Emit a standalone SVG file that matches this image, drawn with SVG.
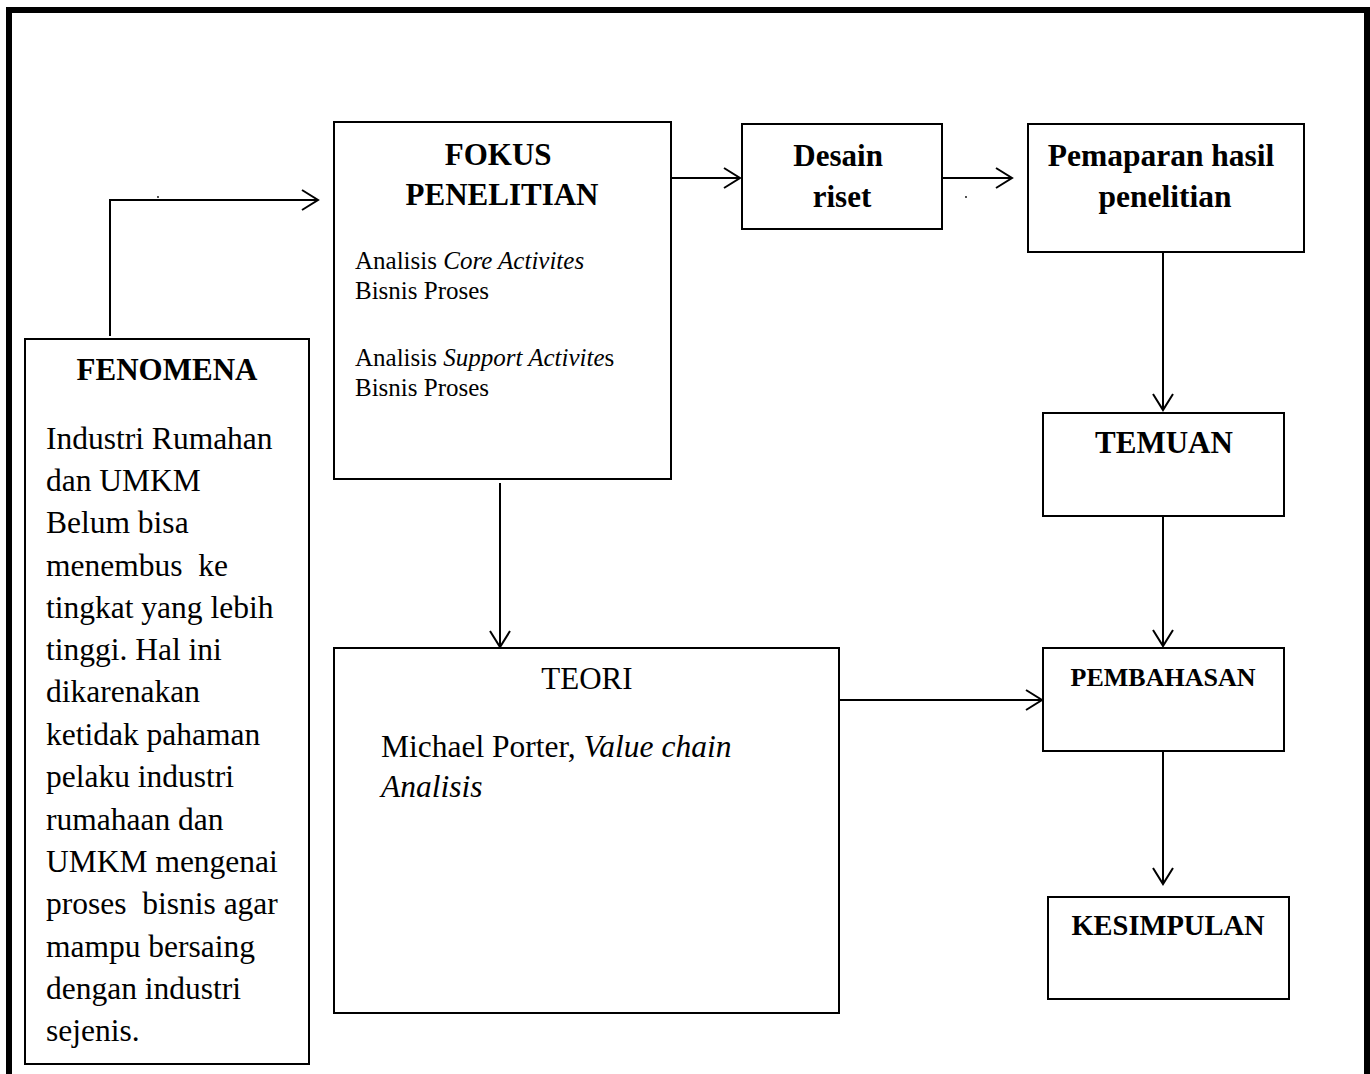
<svg xmlns="http://www.w3.org/2000/svg" width="1370" height="1074" viewBox="0 0 1370 1074">
  <style>
    .box { fill: #fff; stroke: #000; stroke-width: 2; }
    .link { fill: none; stroke: #000; stroke-width: 2; }
    .t { font-family: "Liberation Serif", "Times New Roman", serif; fill: #000; }
    .b { font-weight: bold; }
    .i { font-style: italic; }
    .pre { white-space: pre; }
  </style>
  <defs>
    <marker id="arrow" markerUnits="userSpaceOnUse" markerWidth="22" markerHeight="24" refX="17" refY="11" orient="auto">
      <path d="M1,1 L17,11 L1,21" fill="none" stroke="#000" stroke-width="2"/>
    </marker>
  </defs>

  <rect width="1370" height="1074" fill="#fff"/>
  <!-- outer frame -->
  <rect x="9" y="10" width="1358" height="1100" fill="none" stroke="#000" stroke-width="6"/>

  <g id="connectors">
    <path class="link" d="M110,336 V200 H318" marker-end="url(#arrow)"/>
    <path class="link" d="M668,178 H740" marker-end="url(#arrow)"/>
    <path class="link" d="M942,178 H1012" marker-end="url(#arrow)"/>
    <path class="link" d="M1163,252 V410" marker-end="url(#arrow)"/>
    <path class="link" d="M1163,516 V646" marker-end="url(#arrow)"/>
    <path class="link" d="M839,700 H1042" marker-end="url(#arrow)"/>
    <path class="link" d="M1163,751 V884" marker-end="url(#arrow)"/>
    <path class="link" d="M500,483 V647" marker-end="url(#arrow)"/>
    <!-- stray dots -->
    <circle cx="158" cy="197" r="0.9" fill="#000"/>
    <circle cx="657" cy="197" r="0.9" fill="#000"/>
    <circle cx="966" cy="197" r="0.9" fill="#000"/>
  </g>

  <g id="fenomena">
    <rect class="box" x="25" y="339" width="284" height="725"/>
    <text class="t b" x="167" y="380" font-size="31" text-anchor="middle">FENOMENA</text>
    <text class="t" font-size="31.5">
      <tspan x="46" y="449">Industri Rumahan</tspan>
      <tspan x="46" y="491">dan UMKM</tspan>
      <tspan x="46" y="533">Belum bisa</tspan>
      <tspan x="46" y="576" class="pre">menembus  ke</tspan>
      <tspan x="46" y="618">tingkat yang lebih</tspan>
      <tspan x="46" y="660">tinggi. Hal ini</tspan>
      <tspan x="46" y="702">dikarenakan</tspan>
      <tspan x="46" y="745">ketidak pahaman</tspan>
      <tspan x="46" y="787">pelaku industri</tspan>
      <tspan x="46" y="830">rumahaan dan</tspan>
      <tspan x="46" y="872">UMKM mengenai</tspan>
      <tspan x="46" y="914" class="pre">proses  bisnis agar</tspan>
      <tspan x="46" y="957">mampu bersaing</tspan>
      <tspan x="46" y="999">dengan industri</tspan>
      <tspan x="46" y="1041">sejenis.</tspan>
    </text>
  </g>

  <g id="fokus">
    <rect class="box" x="334" y="122" width="337" height="357"/>
    <text class="t b" font-size="31" text-anchor="middle">
      <tspan x="502" y="165">FOKUS</tspan>
      <tspan x="502" y="205">PENELITIAN</tspan>
    </text>
    <text class="t" font-size="25">
      <tspan x="355" y="269">Analisis <tspan class="i">Core Activites</tspan></tspan>
      <tspan x="355" y="299">Bisnis Proses</tspan>
      <tspan x="355" y="366">Analisis <tspan class="i">Support Activite</tspan>s</tspan>
      <tspan x="355" y="396">Bisnis Proses</tspan>
    </text>
  </g>

  <g id="desain">
    <rect class="box" x="742" y="124" width="200" height="105"/>
    <text class="t b" font-size="31" text-anchor="middle">
      <tspan x="842" y="166">Desain</tspan>
      <tspan x="842" y="207">riset</tspan>
    </text>
  </g>

  <g id="pemaparan">
    <rect class="box" x="1028" y="124" width="276" height="128"/>
    <text class="t b" font-size="31.5" text-anchor="middle">
      <tspan x="1165" y="166">Pemaparan hasil</tspan>
      <tspan x="1165" y="207">penelitian</tspan>
    </text>
  </g>

  <g id="temuan">
    <rect class="box" x="1043" y="413" width="241" height="103"/>
    <text class="t b" x="1164" y="453" font-size="31" text-anchor="middle">TEMUAN</text>
  </g>

  <g id="teori">
    <rect class="box" x="334" y="648" width="505" height="365"/>
    <text class="t" x="587" y="689" font-size="31" text-anchor="middle">TEORI</text>
    <text class="t" font-size="31.5">
      <tspan x="381" y="757">Michael Porter, <tspan class="i">Value chain</tspan></tspan>
      <tspan x="381" y="797" class="i">Analisis</tspan>
    </text>
  </g>

  <g id="pembahasan">
    <rect class="box" x="1043" y="648" width="241" height="103"/>
    <text class="t b" x="1163" y="686" font-size="26" text-anchor="middle">PEMBAHASAN</text>
  </g>

  <g id="kesimpulan">
    <rect class="box" x="1048" y="897" width="241" height="102"/>
    <text class="t b" x="1168" y="935" font-size="28.5" text-anchor="middle">KESIMPULAN</text>
  </g>
</svg>
